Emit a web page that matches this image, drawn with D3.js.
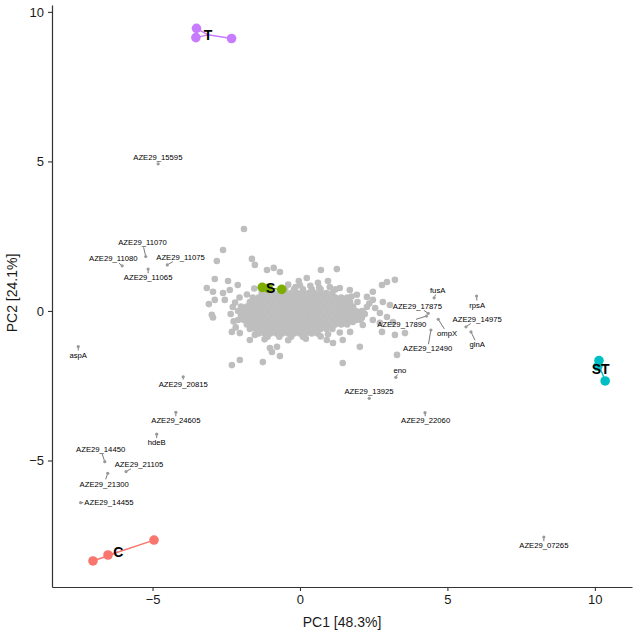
<!DOCTYPE html>
<html>
<head>
<meta charset="utf-8">
<script src="https://cdn.jsdelivr.net/npm/d3@7"></script>
<style>
  body { margin: 0; background: #fff; }
  text { font-family: "Liberation Sans", Arial, sans-serif; }
</style>
</head>
<body>
<svg id="chart" width="634" height="632"></svg>
<script>
//---------------------------------------- data ---------------------------------------
// gene cloud, dense core read as rows (PC2 value -> PC1 values)
var coreRowY = [0.72, 0.6, 0.45, 0.3, 0.15, 0, -0.15, -0.3, -0.45, -0.6, -0.75, -0.86];
var coreRowX = [
  [-0.5,-0.2,0.1,0.4,0.7],
  [-1.3,-1.1,-0.9,-0.7,-0.5,-0.3,-0.1,0.1,0.3,0.5,0.7,0.9,1.1],
  [-1.6,-1.4,-1.2,-1.0,-0.8,-0.6,-0.4,-0.2,0,0.2,0.4,0.6,0.8,1.0,1.2,1.4,1.6],
  [-1.7,-1.5,-1.3,-1.1,-0.9,-0.7,-0.5,-0.3,-0.1,0.1,0.3,0.5,0.7,0.9,1.1,1.3,1.5,1.7],
  [-2.0,-1.8,-1.6,-1.4,-1.2,-1.0,-0.8,-0.6,-0.4,-0.2,0,0.2,0.4,0.6,0.8,1.0,1.2,1.4,1.6,1.8],
  [-2.1,-1.9,-1.7,-1.5,-1.3,-1.1,-0.9,-0.7,-0.5,-0.3,-0.1,0.1,0.3,0.5,0.7,0.9,1.1,1.3,1.5,1.7,1.9,2.1],
  [-2.0,-1.8,-1.6,-1.4,-1.2,-1.0,-0.8,-0.6,-0.4,-0.2,0,0.2,0.4,0.6,0.8,1.0,1.2,1.4,1.6,1.8,2.0],
  [-2.1,-1.9,-1.7,-1.5,-1.3,-1.1,-0.9,-0.7,-0.5,-0.3,-0.1,0.1,0.3,0.5,0.7,0.9,1.1,1.3,1.5,1.7,1.9],
  [-1.8,-1.6,-1.4,-1.2,-1.0,-0.8,-0.6,-0.4,-0.2,0,0.2,0.4,0.6,0.8,1.0,1.2,1.4,1.6],
  [-1.7,-1.5,-1.3,-1.1,-0.9,-0.7,-0.5,-0.3,-0.1,0.1,0.3,0.5,0.7,0.9,1.1],
  [-1.4,-1.2,-1.0,-0.8,-0.6,-0.4,-0.2,0,0.2,0.4,0.6],
  [-1.1,-0.7,-0.3,0.1]
];

// scattered genes round the core [PC1, PC2]
var cloudSparse = [
  [-1.90,2.74],[-2.61,2.04],[-2.82,1.67],[-1.63,1.74],[-1.53,1.54],[-1.12,1.37],[-0.89,1.44],
  [-0.68,1.30],[0.71,1.37],[-0.04,1.00],[0.23,1.10],[0.95,1.00],[-2.89,1.07],[-2.44,1.00],
  [-3.16,0.77],[-2.95,0.64],[-2.61,0.60],[-2.38,0.70],[-2.11,0.87],[-3.09,0.23],[-2.89,0.37],
  [-2.55,0.37],[-2.99,-0.13],[-2.95,-0.22],[-2.28,0.13],[-1.94,0.03],[-2.31,-0.70],[-2.04,-0.74],
  [-1.70,-0.97],[-1.53,-0.80],[-1.02,-1.24],[-0.78,-1.20],[-0.68,-1.51],[-0.95,-1.37],
  [-2.31,-1.81],[-2.04,-1.64],[-1.26,-1.71],[1.45,-1.74],[2.03,-1.20],[1.45,-0.97],[1.12,-1.07],
  [0.91,-0.97],[1.25,1.40],[0.61,0.94],[1.01,0.80],[1.35,0.77],[1.69,0.70],[1.93,0.54],
  [2.27,0.47],[2.47,0.64],[2.78,0.87],[2.95,0.97],[3.22,1.04],[2.47,0.37],[2.81,0.30],
  [3.05,0.20],[2.27,0.13],[2.13,-0.03],[2.71,-0.07],[2.95,-0.20],[3.15,-0.37],[2.71,-0.40],
  [2.47,-0.30],[2.13,-0.47],[1.79,-0.37],[2.78,-0.70],[3.22,-0.80],[3.29,-1.47],[3.56,-0.74],
  [2.10,-0.23],[-0.40,0.88],[0.00,0.86],[0.35,0.84],[0.65,0.78],[-0.15,0.80],[-1.55,0.75],
  [-1.80,0.55],[-2.05,0.45],[-2.25,-0.35],[-2.35,-0.10],[-1.20,-0.95],[-0.40,-0.98],
  [0.20,-0.93],[0.70,-0.85],[1.70,-0.70],[2.35,0.25],[1.95,0.30],[2.55,0.10],[1.20,0.72],
  [-2.20,0.28],[-2.18,-0.55],[1.35,-0.72],[0.95,-0.78],[1.75,0.48],[2.2,-0.1],[2.05,-0.3]
];

// labelled genes
var geneName = ["AZE29_15595","AZE29_11070","AZE29_11080","AZE29_11075","AZE29_11065",
  "fusA","AZE29_17875","AZE29_17890","ompX","AZE29_12490","rpsA","AZE29_14975","glnA",
  "eno","AZE29_13925","AZE29_22060","AZE29_07265","aspA","AZE29_20815","AZE29_24605",
  "hdeB","AZE29_14450","AZE29_21105","AZE29_21300","AZE29_14455"];
var genePC1 = [-4.81,-5.23,-6.03,-4.50,-5.15,4.55,4.35,4.29,4.69,4.44,5.99,5.63,5.80,
  3.25,2.35,4.24,8.27,-7.52,-3.96,-4.21,-4.86,-6.62,-5.90,-6.52,-7.44];
var genePC2 = [4.92,1.82,1.51,1.54,1.40,0.44,-0.08,-0.17,-0.28,-0.64,0.50,-0.53,-0.70,
  -2.22,-2.92,-3.40,-7.56,-1.19,-2.20,-3.39,-4.12,-5.04,-5.37,-5.43,-6.41];
// where the repelled labels sit
var labelPC1 = [-4.82,-5.34,-6.33,-4.05,-5.15,4.67,3.98,3.45,4.99,4.33,6.01,6.01,6.01,
  3.39,2.34,4.26,8.27,-7.52,-3.96,-4.21,-4.86,-6.76,-5.46,-6.64,-6.48];
var labelPC2 = [5.13,2.28,1.75,1.80,1.11,0.70,0.17,-0.43,-0.75,-1.26,0.20,-0.27,-1.13,
  -1.97,-2.70,-3.67,-7.85,-1.47,-2.44,-3.67,-4.40,-4.63,-5.13,-5.78,-6.41];

// samples per group
var groups = ["C", "S", "ST", "T"];
var groupColors = ["#F8766D", "#7CAE00", "#00BFC4", "#C77CFF"];
var samplePC1 = [[-7.02,-6.51,-4.95], [-1.28,-1.08,-0.62], [10.14,10.10,10.35], [-3.51,-3.53,-2.32]];
var samplePC2 = [[-8.36,-8.16,-7.66], [0.79,0.76,0.72], [-1.66,-1.85,-2.34], [9.45,9.14,9.11]];

var xTicks = [-5, 0, 5, 10];
var yTicks = [-5, 0, 5, 10];

//---------------------------------------- chart ---------------------------------------
var svg = d3.select("#chart");
var x = d3.scaleLinear().domain([-8.41, 11.26]).range([52, 632]);
var y = d3.scaleLinear().domain([-9.23, 10.23]).range([587, 5]);

var cloud = [];
coreRowY.forEach(function(yy, i) {
  coreRowX[i].forEach(function(xx) { cloud.push([xx, yy]); });
});
cloud = cloud.concat(cloudSparse);

svg.append("g").selectAll("circle")
  .data(cloud).enter().append("circle")
  .attr("cx", function(d) { return x(d[0]); })
  .attr("cy", function(d) { return y(d[1]); })
  .attr("r", 3.3)
  .style("fill", "#BEBEBE");

// group spiders
groups.forEach(function(g, i) {
  var cx = d3.mean(samplePC1[i]), cy = d3.mean(samplePC2[i]);
  var gg = svg.append("g");
  samplePC1[i].forEach(function(px, j) {
    gg.append("line")
      .attr("x1", x(cx)).attr("y1", y(cy))
      .attr("x2", x(px)).attr("y2", y(samplePC2[i][j]))
      .style("stroke", groupColors[i]).style("stroke-width", 1.4);
  });
  samplePC1[i].forEach(function(px, j) {
    gg.append("circle")
      .attr("cx", x(px)).attr("cy", y(samplePC2[i][j]))
      .attr("r", 4.8)
      .style("fill", groupColors[i]);
  });
  gg.append("text")
    .attr("x", x(cx)).attr("y", y(cy))
    .attr("dy", "0.36em")
    .style("text-anchor", "middle")
    .style("font-size", "14px").style("font-weight", "bold")
    .style("fill", "#000")
    .text(g);
});

// labelled genes
var genes = svg.append("g");
geneName.forEach(function(name, i) {
  var px = x(genePC1[i]), py = y(genePC2[i]);
  var lx = x(labelPC1[i]), ly = y(labelPC2[i]);
  var t = genes.append("text")
    .attr("x", lx).attr("y", ly).attr("dy", "0.35em")
    .style("text-anchor", "middle")
    .style("font-size", "7.7px")
    .style("fill", "#000")
    .text(name);
  var bb = t.node().getBBox();
  var hw = bb.width / 2 + 1, hh = bb.height / 2;
  var dx = px - lx, dy = py - ly;
  var s = Math.min(dx ? hw / Math.abs(dx) : Infinity, dy ? hh / Math.abs(dy) : Infinity);
  if (s < 1) {
    var ex = lx + dx * s, ey = ly + dy * s;
    var len = Math.sqrt((px - ex) * (px - ex) + (py - ey) * (py - ey));
    if (len > 2.5) {
      genes.append("line")
        .attr("x1", ex).attr("y1", ey)
        .attr("x2", px - (px - ex) / len * 1.2).attr("y2", py - (py - ey) / len * 1.2)
        .style("stroke", "#555").style("stroke-width", 0.8);
    }
  }
  genes.append("circle")
    .attr("cx", px).attr("cy", py).attr("r", 1.6)
    .style("fill", "#999");
});

//---------------------------------------- axes ---------------------------------------
var xAxis = svg.append("g")
  .attr("transform", "translate(0,587)")
  .call(d3.axisBottom(x).tickValues(xTicks).tickSize(4).tickSizeOuter(0).tickPadding(4));
var yAxis = svg.append("g")
  .attr("transform", "translate(52,0)")
  .call(d3.axisLeft(y).tickValues(yTicks).tickSize(4).tickSizeOuter(0).tickPadding(4));

[xAxis, yAxis].forEach(function(a) {
  a.select(".domain").style("stroke", "#333").style("stroke-width", 1.2);
  a.selectAll(".tick line").style("stroke", "#333").style("stroke-width", 1.1);
  a.selectAll(".tick text")
    .style("font-family", "'Liberation Sans', Arial, sans-serif")
    .style("font-size", "13px").style("fill", "#1a1a1a");
});

svg.append("text")
  .attr("x", 342).attr("y", 627)
  .style("text-anchor", "middle")
  .style("font-size", "14px").style("fill", "#1a1a1a")
  .text("PC1 [48.3%]");

svg.append("text")
  .attr("transform", "translate(17,293) rotate(-90)")
  .style("text-anchor", "middle")
  .style("font-size", "14px").style("fill", "#1a1a1a")
  .text("PC2 [24.1%]");
</script>
</body>
</html>
